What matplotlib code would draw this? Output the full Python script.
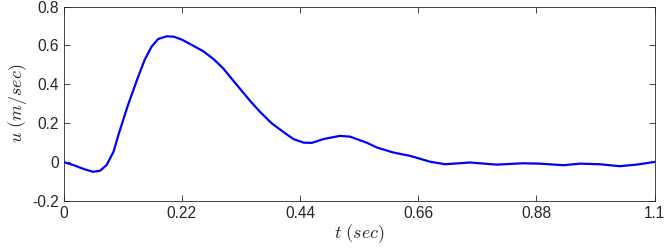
import matplotlib.pyplot as plt

plt.rcParams['font.family'] = ['Liberation Sans', 'DejaVu Sans']
plt.rcParams['mathtext.fontset'] = 'cm'

# values
t = [0.0, 0.018, 0.037, 0.055, 0.068, 0.080, 0.093, 0.102, 0.111, 0.120,
     0.130, 0.139, 0.151, 0.164, 0.176, 0.192, 0.205, 0.220, 0.241, 0.260,
     0.279, 0.297, 0.313, 0.328, 0.347, 0.365, 0.387, 0.412, 0.428, 0.447,
     0.462, 0.483, 0.514, 0.533, 0.564, 0.583, 0.614, 0.645, 0.682, 0.710,
     0.756, 0.806, 0.855, 0.887, 0.930, 0.961, 0.998, 1.035, 1.066, 1.1]
u = [0.0, -0.015, -0.035, -0.050, -0.044, -0.015, 0.054, 0.140, 0.218, 0.295,
     0.372, 0.441, 0.527, 0.595, 0.633, 0.647, 0.645, 0.630, 0.599, 0.570,
     0.530, 0.482, 0.428, 0.378, 0.315, 0.260, 0.200, 0.149, 0.118, 0.100,
     0.099, 0.118, 0.135, 0.131, 0.100, 0.075, 0.049, 0.032, 0.002, -0.011,
     -0.002, -0.013, -0.006, -0.008, -0.016, -0.008, -0.011, -0.021, -0.013, 0.001]

xticks = [0, 0.22, 0.44, 0.66, 0.88, 1.1]
xticklabels = ['0', '0.22', '0.44', '0.66', '0.88', '1.1']
yticks = [-0.2, 0, 0.2, 0.4, 0.6, 0.8]
yticklabels = ['-0.2', '0', '0.2', '0.4', '0.6', '0.8']

fig = plt.figure(figsize=(6.64, 2.52), dpi=100)
ax = fig.add_axes([0.0958, 0.2024, 0.8902, 0.7716])

ax.plot(t, u, color='#0000ff', linewidth=1.6)

ax.set_xlim(0, 1.1)
ax.set_ylim(-0.2, 0.8)
ax.set_xticks(xticks)
ax.set_xticklabels(xticklabels)
ax.set_yticks(yticks)
ax.set_yticklabels(yticklabels)

ax.tick_params(direction='in', length=4, width=0.6, colors='#262626',
               labelsize=11.2, top=True, right=True)
for s in ax.spines.values():
    s.set_color('#262626')
    s.set_linewidth(0.6)

ax.set_xlabel(r'$t\ (sec)$', fontsize=13, color='#262626', labelpad=1)
ax.set_ylabel(r'$u\ (m/sec)$', fontsize=13, color='#262626', labelpad=2)

fig.savefig('out.png', dpi=100)
